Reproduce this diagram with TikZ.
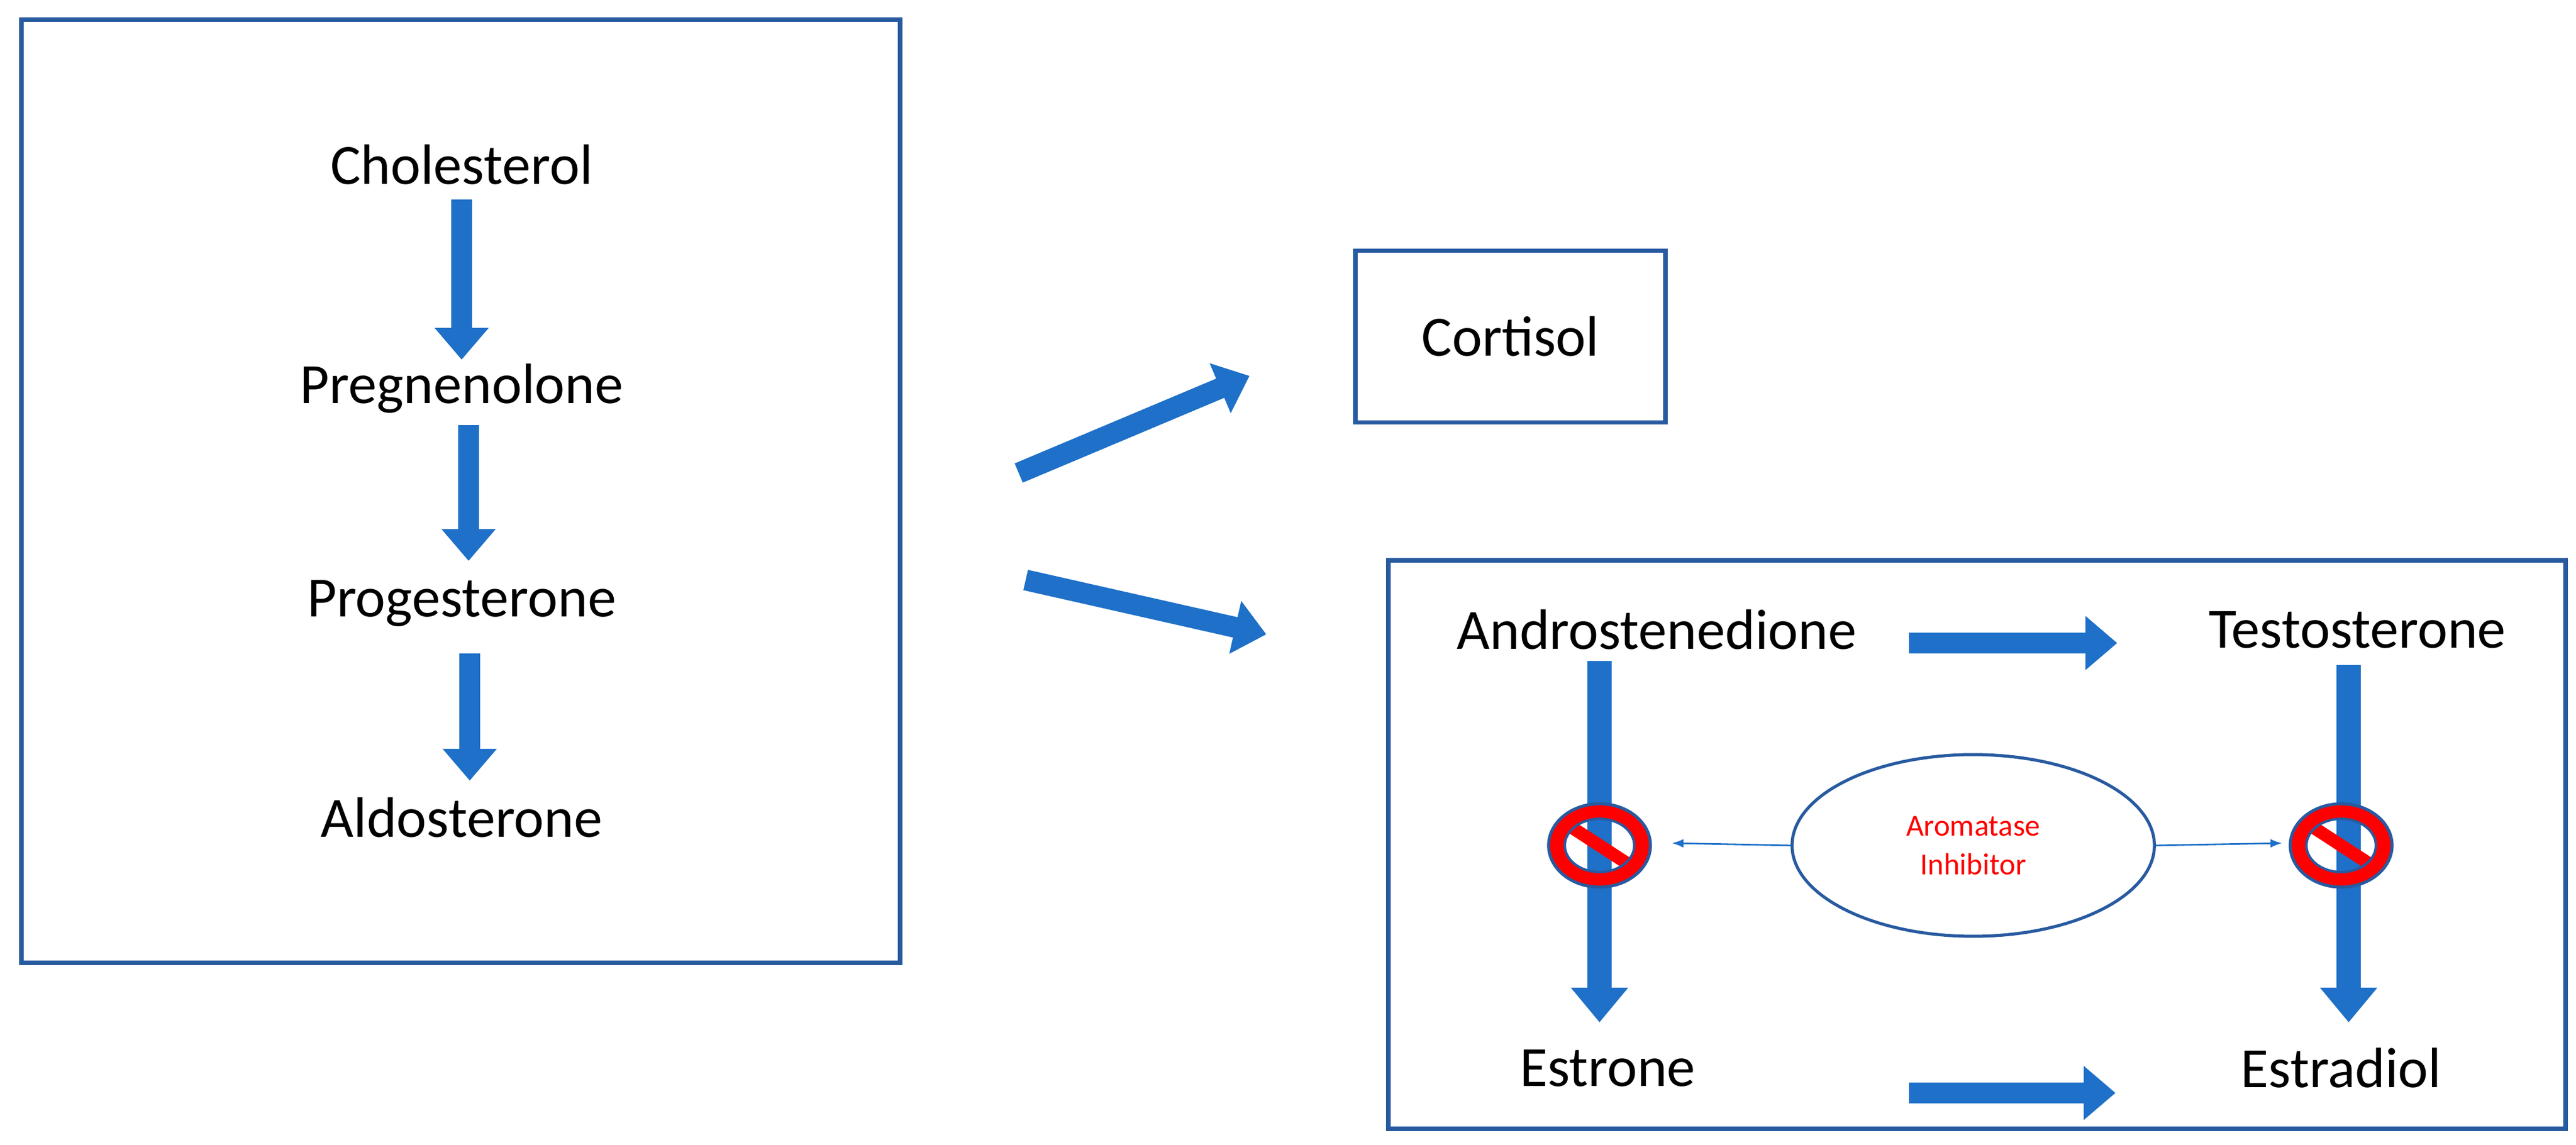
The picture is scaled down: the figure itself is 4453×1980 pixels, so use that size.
\documentclass[tikz,border=0pt]{standalone}
\usepackage{fontspec}
\setmainfont{Carlito}
\usetikzlibrary{arrows.meta,shapes.geometric}
\definecolor{ab}{RGB}{30,112,200}
\definecolor{bd}{RGB}{40,90,160}
\tikzset{
 lbl/.style={font=\fontsize{28}{34}\selectfont, inner sep=0pt},
 box/.style={draw=bd, line width=2.2pt},
 blk/.style={draw=ab, line width=0.36cm, -{Triangle[length=0.55cm,width=0.9cm]}},
 big/.style={draw=ab, line width=0.42cm, -{Triangle[length=0.6cm,width=0.95cm]}},
 thin/.style={draw=ab, line width=0.8pt, -{Latex[length=0.2cm]}}
}
\newcommand{\noSym}[1]{%
 \begin{scope}[shift={(#1)}]
  \fill[red, even odd rule] (0,0) ellipse (88 and 72) (0,0) ellipse (60 and 46);
  \fill[red, rotate=-33] (-62,-11) rectangle (62,11);
  \draw[bd, line width=1.5pt] (0,0) ellipse (88 and 72);
  \draw[bd, line width=1.2pt] (0,0) ellipse (60 and 46);
 \end{scope}}
\begin{document}
\begin{tikzpicture}[x=0.01cm,y=-0.01cm]
\useasboundingbox (0,0) rectangle (4453,1980);
\draw[box] (37,34) rectangle (1556,1665);
\node[lbl] (chol) at (798,285) {Cholesterol};
\node[lbl] (preg) at (798,672) {Pregnenolone};
\node[lbl] (prog) at (798,1043) {Progesterone};
\node[lbl] (aldo) at (798,1414) {Aldosterone};
\draw[blk] (798,345) -- (798,622);
\draw[blk] (810,735) -- (810,970);
\draw[blk] (812,1130) -- (812,1350);

\node[box, minimum width=5.36cm, minimum height=2.97cm, lbl, draw] (cort) at (2611,582) {Cortisol};
\draw[box] (2400,969) rectangle (4435,1952);

\coordinate (d1s) at (1761,818); \coordinate (d1e) at (2160,650);
\coordinate (d2s) at (1773,1003); \coordinate (d2e) at (2189,1097);
\draw[blk] (d1s) -- (d1e);
\draw[blk] (d2s) -- (d2e);

\node[lbl] (andro) at (2864,1089) {Androstenedione};
\node[lbl] (testo) at (4075,1089) {Testosterone};
\node[lbl] (estrone) at (2779,1847) {Estrone};
\node[lbl] (estradiol) at (4047,1847) {Estradiol};

\draw[blk] (3300,1112) -- (3660,1112);
\draw[blk] (3300,1890) -- (3657,1890);
\draw[big] (2765,1143) -- (2765,1768);
\draw[big] (4060,1150) -- (4060,1768);

\node[draw=bd, line width=1.5pt, ellipse, minimum width=6.26cm, minimum height=3.14cm,
  align=center, text=red, font=\fontsize{15}{19}\selectfont] (ai) at (3411,1462) {Aromatase\\Inhibitor};
\coordinate (nl) at (2765,1462);
\coordinate (nr) at (4047,1462);
\noSym{nl}
\noSym{nr}
\draw[thin] (ai.west) -- (2890,1458);
\draw[thin] (ai.east) -- (3945,1458);
\end{tikzpicture}
\end{document}
